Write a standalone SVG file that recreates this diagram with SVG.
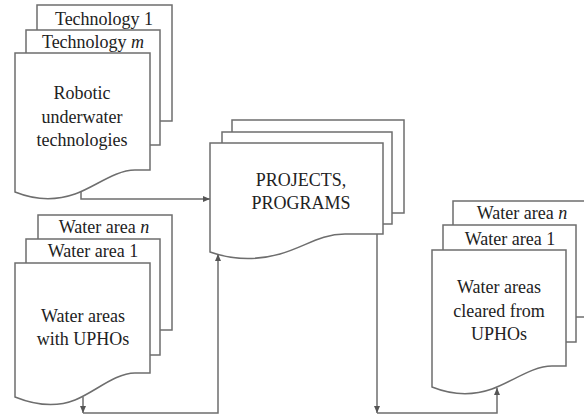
<svg xmlns="http://www.w3.org/2000/svg" width="584" height="419" viewBox="0 0 584 419">
<style>
.sh{fill:#fff;stroke:#6e6e6e;stroke-width:1.5}
.ln{fill:none;stroke:#6e6e6e;stroke-width:1.5}
.t{font-family:"Liberation Serif","Times New Roman",serif;font-size:18px;fill:#222;text-anchor:middle}
.i{font-style:italic}
</style>
<defs>
<marker id="ah" markerWidth="7" markerHeight="6" refX="7" refY="3" orient="auto" markerUnits="userSpaceOnUse">
<path d="M0,0 L7,3 L0,6 z" fill="#555"/>
</marker>
</defs>
<rect width="584" height="419" fill="#fff"/>
<g id="robotic">
<rect class="sh" x="37" y="5" width="135" height="116"/>
<text class="t" x="104" y="25">Technology 1</text>
<rect class="sh" x="26" y="30" width="134" height="115"/>
<text class="t" x="93" y="48">Technology <tspan class="i">m</tspan></text>
<path class="sh" d="M15,53 H150 V170 H135 C115,170 95,187 75,194 C55,201 35,200 15,192 Z"/>
<text class="t" x="82" y="99">Robotic</text>
<text class="t" x="82" y="122.5">underwater</text>
<text class="t" x="82" y="146">technologies</text>
</g>
<g id="water-uphos">
<rect class="sh" x="38" y="215" width="134" height="115"/>
<text class="t" x="104" y="233">Water area <tspan class="i">n</tspan></text>
<rect class="sh" x="26" y="239" width="134" height="116"/>
<text class="t" x="93" y="257">Water area 1</text>
<path class="sh" d="M15,263 H150 V373 H135 C115,373 95,392 75,400 C55,408 35,405 15,397 Z"/>
<text class="t" x="83" y="322">Water areas</text>
<text class="t" x="83" y="345">with UPHOs</text>
</g>
<g id="projects">
<rect class="sh" x="232" y="120" width="172" height="93"/>
<rect class="sh" x="222" y="132" width="170" height="92"/>
<path class="sh" d="M210,143 H383 V234 H345 C320,234 305,247 280,254 C255,261 230,259 210,252 Z"/>
<text class="t" x="301" y="186">PROJECTS,</text>
<text class="t" x="301" y="209">PROGRAMS</text>
</g>
<g id="water-cleared">
<rect class="sh" x="453" y="201" width="134" height="116"/>
<text class="t" x="522" y="219">Water area <tspan class="i">n</tspan></text>
<rect class="sh" x="443" y="225" width="133" height="117"/>
<text class="t" x="510" y="245">Water area 1</text>
<path class="sh" d="M432,250 H566 V366 H552 C532,366 512,382 492,389 C472,396 452,395 432,387 Z"/>
<text class="t" x="499" y="293">Water areas</text>
<text class="t" x="499" y="317">cleared from</text>
<text class="t" x="499" y="340">UPHOs</text>
</g>
<g id="connectors">
<path class="ln" d="M81,192 V199 H210" marker-end="url(#ah)"/>
<path class="ln" d="M83,397 V413" marker-end="url(#ah)"/>
<path class="ln" d="M83,413 H218 V254" marker-end="url(#ah)"/>
<path class="ln" d="M377,234 V413" marker-end="url(#ah)"/>
<path class="ln" d="M377,413 H497 V388" marker-end="url(#ah)"/>
</g>
</svg>
